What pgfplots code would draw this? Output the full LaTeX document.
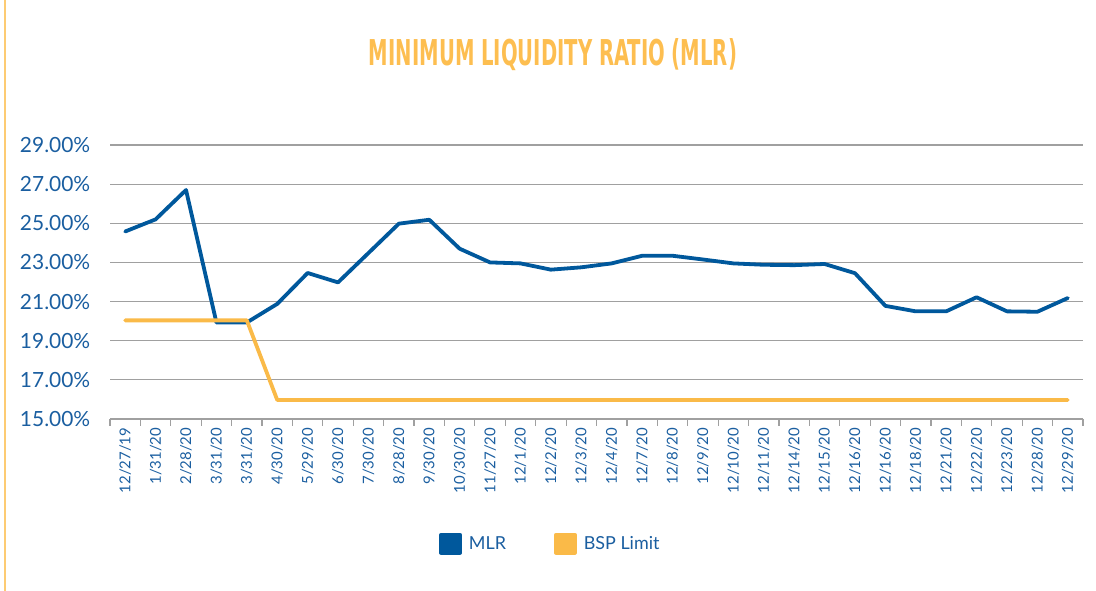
\documentclass[border=0pt]{standalone}
\usepackage{fontspec}
\setmainfont{Lato}
\newfontfamily\titlefont{DejaVu Sans Condensed}[BoldFont={DejaVu Sans Condensed Bold}]
\usepackage{pgfplots}
\pgfplotsset{compat=1.18}
\definecolor{mlrblue}{RGB}{0,88,156}
\definecolor{lblblue}{RGB}{26,94,160}
\definecolor{bsporange}{RGB}{250,186,72}
\definecolor{titleorange}{RGB}{253,190,80}
\definecolor{gridgray}{RGB}{160,160,160}
\begin{document}
\begin{tikzpicture}[x=1bp,y=1bp]
\useasboundingbox (0,0) rectangle (1096,591);
\draw[titleorange!80, line width=1.5bp] (5,0) -- (5,591);
\node at (553,536) {\color{titleorange}\resizebox{368bp}{27bp}{\titlefont\bfseries MINIMUM LIQUIDITY RATIO (MLR)}};
\begin{axis}[
  at={(110bp,172bp)}, anchor=south west,
  scale only axis, width=973bp, height=274bp,
  xmin=-0.5, xmax=31.5, ymin=15, ymax=29,
  axis x line*=bottom, axis y line*=left,
  y axis line style={draw=none},
  x axis line style={draw=gridgray, line width=1.2bp},
  xtick={0,...,31},
  xticklabels={12/27/19,1/31/20,2/28/20,3/31/20,3/31/20,4/30/20,5/29/20,6/30/20,7/30/20,8/28/20,9/30/20,10/30/20,11/27/20,12/1/20,12/2/20,12/3/20,12/4/20,12/7/20,12/8/20,12/9/20,12/10/20,12/11/20,12/14/20,12/15/20,12/16/20,12/16/20,12/18/20,12/21/20,12/22/20,12/23/20,12/28/20,12/29/20},
  major x tick style={draw=none},
  minor xtick={-0.5,0.5,...,31.5},
  minor x tick style={draw=gridgray, line width=1.2bp},
  tick align=outside,
  minor tick length=7bp,
  xticklabel style={rotate=90, anchor=east, font=\fontsize{15}{17}\selectfont, text=lblblue, xshift=-1bp},
  ytick={15,17,...,29},
  yticklabels={15.00\%,17.00\%,19.00\%,21.00\%,23.00\%,25.00\%,27.00\%,29.00\%},
  yticklabel style={font=\fontsize{21}{24}\selectfont, text=lblblue, xshift=-12bp},
  ytick style={draw=none},
  ymajorgrids, major grid style={draw=gridgray, line width=1.2bp},
  legend style={at={(0.4525,-0.455)}, anchor=center, draw=none, legend columns=2,
    font=\fontsize{18}{21}\selectfont, text=lblblue,
    /tikz/every odd column/.append style={column sep=5bp},
    /tikz/every even column/.append style={column sep=46bp}},
  legend cell align=left,
  clip=false,
]
\addplot[mlrblue, line width=3.8bp, line join=round, line cap=round,
  legend image code/.code={\fill[mlrblue] (0bp,-9bp) rectangle (19bp,9bp);}]
  coordinates {
  (0,24.58) (1,25.2) (2,26.7) (3,19.93) (4,19.93) (5,20.88) (6,22.46) (7,21.98)
  (8,23.48) (9,24.98) (10,25.18) (11,23.7) (12,23.0) (13,22.95) (14,22.63) (15,22.75)
  (16,22.95) (17,23.34) (18,23.34) (19,23.15) (20,22.95) (21,22.88) (22,22.86) (23,22.92)
  (24,22.45) (25,20.78) (26,20.5) (27,20.5) (28,21.22) (29,20.5) (30,20.48) (31,21.18)};
\addlegendentry{MLR}
\addplot[bsporange, line width=3.8bp, line join=round, line cap=round,
  legend image code/.code={\fill[bsporange] (0bp,-9bp) rectangle (19bp,9bp);}]
  coordinates {
  (0,20.04) (1,20.04) (2,20.04) (3,20.04) (4,20.04) (5,15.97) (6,15.97) (7,15.97)
  (8,15.97) (9,15.97) (10,15.97) (11,15.97) (12,15.97) (13,15.97) (14,15.97) (15,15.97)
  (16,15.97) (17,15.97) (18,15.97) (19,15.97) (20,15.97) (21,15.97) (22,15.97) (23,15.97)
  (24,15.97) (25,15.97) (26,15.97) (27,15.97) (28,15.97) (29,15.97) (30,15.97) (31,15.97)};
\addlegendentry{BSP Limit}
\end{axis}
\end{tikzpicture}
\end{document}
